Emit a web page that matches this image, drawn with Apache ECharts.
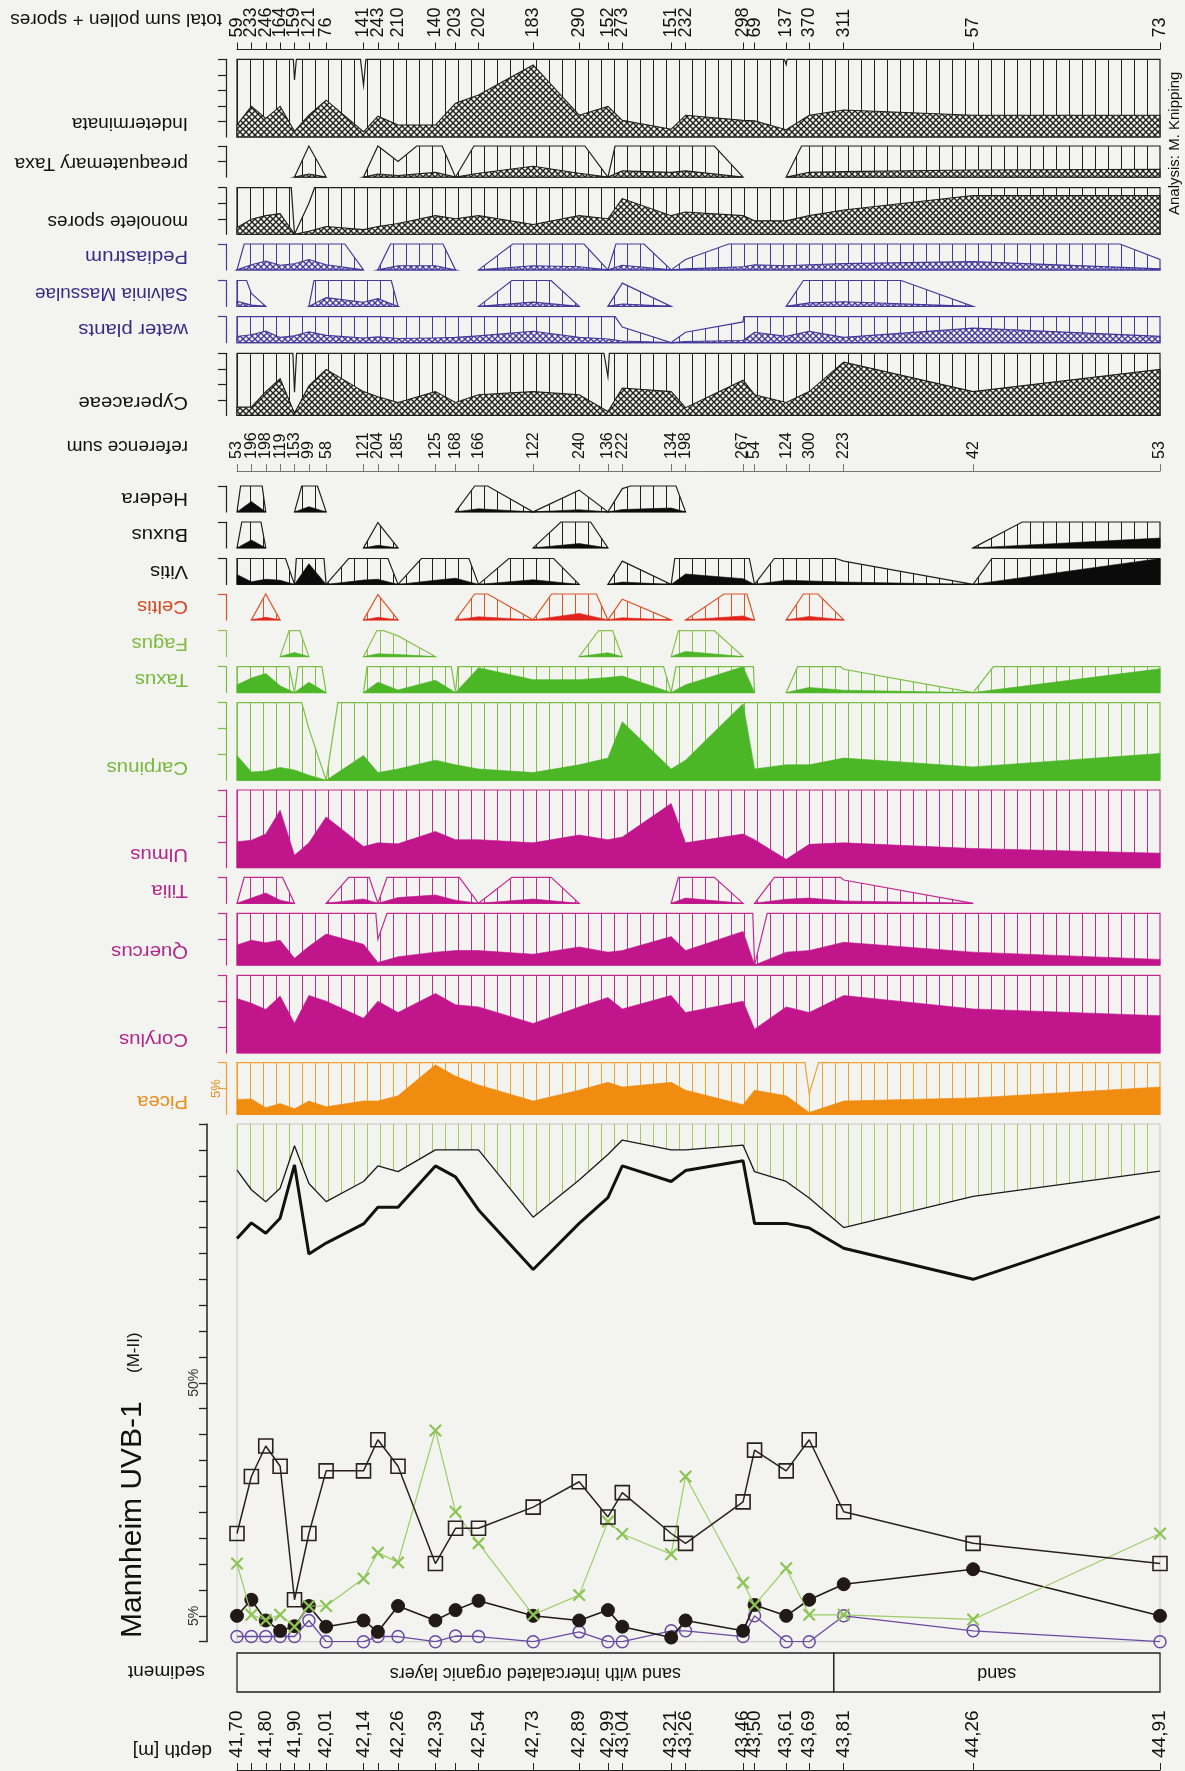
<!DOCTYPE html>
<html>
<head>
<meta charset="utf-8">
<title>Mannheim UVB-1 (M-II)</title>
<script src="https://cdn.jsdelivr.net/npm/echarts@6/dist/echarts.min.js"></script>
<style>
  html, body { margin: 0; padding: 0; background: #f3f3f0; }
  #chart { width: 1185px; height: 1771px; }
</style>
</head>
<body>
<div id="chart"></div>
<script>
// ---- sample depths (m) and counts ----
const depths = [41.70, 41.75, 41.80, 41.85, 41.90, 41.95, 42.01, 42.14, 42.19, 42.26, 42.39, 42.46, 42.54,
  42.73, 42.89, 42.99, 43.04, 43.21, 43.26, 43.46, 43.50, 43.61, 43.69, 43.81, 44.26, 44.91];
const depthLabelValues = [41.70, 41.80, 41.90, 42.01, 42.14, 42.26, 42.39, 42.54, 42.73, 42.89, 42.99, 43.04,
  43.21, 43.26, 43.46, 43.50, 43.61, 43.69, 43.81, 44.26, 44.91];
const totalSums = [59, 233, 246, 164, 159, 121, 76, 141, 243, 210, 140, 203, 202, 183, 290, 152, 273, 151, 232,
  298, 69, 137, 370, 311, 57, 73];
const referenceSums = [53, 196, 198, 119, 153, 99, 58, 121, 204, 185, 125, 168, 166, 122, 240, 136, 222, 134, 198,
  267, 54, 124, 300, 223, 42, 53];

// ---- sediment units ----
const sedimentBounds = [41.70, 43.775, 44.91];
const sedimentNames = ['sand with intercalated organic layers', 'sand'];

// ---- non-pollen palynomorphs (%) ----
const indeterminata = [2.3, 5.9, 3.6, 5.9, 1.1, 4.2, 7.1, 1.0, 4.0, 2.3, 2.3, 6.5, 8.1, 13.9, 4.2, 5.9, 3.2, 1.5, 4.2, 3.2, 3.1, 1.4, 4.2, 5.2, 4.2, 4.2];
const preaquatemaryTaxa = [0, 0, 0, 0, 0, 0.6, 0, 0, 0.6, 0.3, 0.9, 0, 0.75, 2.1, 0.75, 0, 1.2, 0.9, 1.2, 0, 0, 0, 0.9, 1.05, 1.35, 1.5];
const moneleteSpores = [1.3, 2.9, 3.6, 4.0, 0, 0.6, 1.5, 0.9, 1.5, 2.1, 3.6, 3.0, 3.6, 1.9, 3.6, 3.0, 6.9, 3.6, 4.3, 3.6, 2.6, 2.6, 3.6, 4.7, 7.5, 7.5];
const pediastrum = [0, 1.0, 1.7, 0.9, 1.2, 2.0, 1.0, 0, 0, 0.8, 0.8, 0, 0, 0.8, 0.6, 0, 0.9, 0, 0.2, 0.6, 1.0, 0.8, 1.0, 1.2, 1.6, 0.2];
const salviniaMassulae = [1.0, 0.25, 0, 0, 0, 0, 1.7, 0.8, 1.5, 0, 0, 0, 0, 0.82, 0, 0, 0.45, 0, 0, 0, 0, 0, 0.67, 0.9, 0, 0];
const waterPlants = [1.2, 1.5, 2.2, 1.0, 1.3, 2.1, 1.4, 0.9, 1.1, 0.8, 0.9, 1.0, 1.3, 2.2, 1.0, 0.7, 0.3, 0, 0.2, 0.4, 2.0, 1.2, 2.2, 1.0, 2.8, 1.2];
const cyperaceae = [1.6, 1.6, 4.6, 7.1, 0.45, 5.7, 8.9, 4.6, 3.6, 2.5, 4.6, 2.5, 4.0, 4.6, 4.0, 0.75, 5.3, 4.6, 1.5, 6.8, 4.0, 2.5, 4.6, 10.3, 4.6, 8.9];

// ---- pollen taxa (%) ----
const hedera = [0, 2.0, 0, 0, 0, 1.0, 0, 0, 0, 0, 0, 0, 0.6, 0, 0.42, 0, 0.45, 0.75, 0, 0, 0, 0, 0, 0, 0, 0];
const buxus = [0, 1.5, 0, 0, 0, 0, 0, 0, 0.49, 0, 0, 0, 0, 0, 0.83, 0, 0, 0, 0, 0, 0, 0, 0, 0, 0, 1.9];
const vitis = [1.9, 0.5, 1.0, 0.8, 0, 4.0, 0, 0.83, 1.0, 0, 0.8, 1.2, 0, 0.9, 0, 0, 0.45, 0, 2.0, 1.1, 0, 0.8, 0.67, 0.45, 0, 5.0];
const celtis = [0, 0, 0.5, 0, 0, 0, 0, 0, 0.49, 0, 0, 0, 0.6, 0, 1.25, 0, 0.4, 0, 0, 0.75, 0, 0, 0.67, 0, 0, 0];
const fagus = [0, 0, 0, 0, 0.8, 0, 0, 0, 0.54, 0.4, 0, 0, 0, 0, 0, 0.74, 0, 0, 1.0, 0, 0, 0, 0, 0, 0, 0];
const taxus = [1.5, 2.8, 3.7, 1.3, 0, 2.0, 0, 0, 2.0, 0.5, 2.4, 0, 4.8, 2.5, 2.5, 2.9, 3.2, 0, 1.5, 5.0, 0, 0, 1.0, 0.45, 0, 4.6];
const carpinus = [4.8, 1.6, 1.8, 2.5, 2.0, 1.0, 0, 4.8, 1.5, 2.2, 3.9, 3.0, 2.2, 1.5, 3.0, 4.3, 11.3, 2.2, 3.9, 14.8, 2.2, 3.0, 3.0, 4.3, 2.6, 5.2];
const ulmus = [5.0, 5.3, 6.5, 11.1, 2.4, 4.8, 9.8, 4.1, 4.8, 4.6, 7.0, 5.4, 5.4, 4.8, 6.3, 5.4, 5.9, 12.4, 4.8, 6.5, 5.4, 1.6, 4.5, 4.8, 3.7, 2.8];
const tilia = [0, 1.0, 2.0, 0.6, 0, 0, 0, 0.83, 0, 1.1, 1.6, 0.6, 0, 0.82, 0, 0, 0, 0, 1.0, 0, 0, 0.8, 1.0, 0.45, 0, 0];
const quercus = [3.9, 4.8, 4.3, 4.8, 1.3, 3.6, 6.0, 4.0, 0.5, 1.6, 2.5, 2.8, 2.8, 2.1, 3.5, 2.5, 2.8, 5.5, 2.8, 6.5, 0, 2.5, 2.8, 4.4, 2.5, 1.1];
const corylus = [10.5, 9.6, 8.4, 11.0, 5.7, 11.1, 10.0, 6.7, 10.0, 7.8, 11.5, 9.3, 8.9, 5.7, 8.9, 10.7, 8.5, 11.1, 7.8, 10.0, 4.6, 8.9, 7.8, 11.1, 8.5, 7.2];
const picea = [2.9, 3.0, 1.3, 2.1, 1.1, 2.6, 1.5, 2.6, 2.6, 3.6, 9.6, 7.4, 5.7, 2.6, 4.7, 6.2, 5.3, 6.2, 4.7, 1.9, 4.7, 3.6, 0.4, 2.6, 3.2, 5.3];

// ---- summary curves (%) ----
const summaryThin = [91.1, 87.3, 85.0, 87.6, 95.8, 88.5, 85.0, 88.9, 91.9, 90.8, 95.0, 95.0, 95.0, 82.0, 89.2, 94.1, 96.9, 95.0, 95.0, 95.9, 90.8, 88.9, 85.7, 80.0, 86.0, 90.9];
const summaryThick = [77.9, 80.9, 78.9, 81.8, 92.1, 74.9, 77.0, 80.7, 83.9, 83.9, 91.9, 89.8, 83.4, 71.9, 80.8, 85.8, 91.9, 88.9, 91.0, 92.9, 80.8, 80.8, 79.9, 76.0, 70.0, 82.1];
const curveSquares = [20.9, 31.9, 37.8, 33.9, 8.1, 20.9, 33.0, 33.0, 39.0, 33.9, 15.1, 21.9, 21.9, 26.0, 30.9, 24.1, 28.8, 20.9, 19.0, 27.0, 37.0, 33.0, 39.0, 25.1, 19.0, 15.1];
const curveCrosses = [15.1, 5.2, 4.2, 5.2, 2.9, 6.9, 6.9, 12.2, 17.2, 15.3, 40.8, 25.1, 19.0, 5.2, 9.0, 23.2, 20.8, 16.9, 31.9, 11.4, 7.1, 14.2, 5.2, 5.2, 4.3, 20.9];
const curveDots = [5.0, 8.1, 4.1, 2.1, 3.0, 6.9, 2.9, 4.1, 1.9, 6.9, 4.1, 6.1, 7.9, 5.0, 4.1, 6.1, 2.9, 0.8, 4.1, 2.1, 7.1, 5.0, 8.1, 11.1, 14.0, 5.0];
const curveCircles = [1.0, 1.0, 1.0, 1.0, 1.0, 4.1, 0, 0, 1.0, 1.0, 0, 1.1, 1.0, 0, 1.9, 0, 0, 2.1, 2.1, 1.0, 5.0, 0, 0, 5.0, 2.1, 0];

// ---------------------------------------------------------------------------
const FONT = '"Liberation Sans", Arial, Helvetica, sans-serif';
const DMIN = 41.70, DMAX = 44.91;
const LEFT = 237, WIDTH = 923;
const PX_PER_PCT = 5.177;
const EXAG = 10;

// fill patterns
const patternCache = {};
function hatchPattern(color) {
  const key = 'h' + color;
  if (!patternCache[key]) {
    const c = document.createElement('canvas');
    c.width = 13; c.height = 4;
    const ctx = c.getContext('2d');
    ctx.fillStyle = color;
    ctx.fillRect(3, 0, 1, 4);
    patternCache[key] = { image: c, repeat: 'repeat' };
  }
  return patternCache[key];
}
function crossPattern(color) {
  const key = 'x' + color;
  if (!patternCache[key]) {
    const c = document.createElement('canvas');
    c.width = 6; c.height = 6;
    const ctx = c.getContext('2d');
    ctx.fillStyle = '#f3f3f0';
    ctx.fillRect(0, 0, 6, 6);
    ctx.strokeStyle = color;
    ctx.lineWidth = 1.4;
    ctx.beginPath();
    ctx.moveTo(-1, -1); ctx.lineTo(7, 7);
    ctx.moveTo(-1, 7); ctx.lineTo(7, -1);
    ctx.stroke();
    patternCache[key] = { image: c, repeat: 'repeat' };
  }
  return patternCache[key];
}

const STY = {
  npBlack:  { line: '#1f1f1f', fill: '#1f1f1f', np: true, label: '#111111' },
  npPurple: { line: '#46399b', fill: '#46399b', np: true, label: '#382c88' },
  black:    { line: '#1f1f1f', fill: '#0b0b0b', label: '#111111' },
  celtis:   { line: '#dc5528', fill: '#e2231b', label: '#d6491e' },
  fagus:    { line: '#8dc153', fill: '#4bb626', label: '#80bb3e' },
  green:    { line: '#7ac044', fill: '#4bb626', label: '#76b83b' },
  magenta:  { line: '#c32a90', fill: '#c1168b', label: '#b3268a' },
  picea:    { line: '#efa232', fill: '#f08c10', label: '#e58d17' }
};

// name, values, axis max, tick step, top (px), style
const panels = [
  ['Indeterminata', indeterminata, 15, 3, 59.3, STY.npBlack],
  ['preaquatemary Taxa', preaquatemaryTaxa, 6, 3, 146, STY.npBlack],
  ['monolete spores', moneleteSpores, 9, 3, 187.7, STY.npBlack],
  ['Pediastrum', pediastrum, 5, 5, 244, STY.npPurple],
  ['Salvinia Massulae', salviniaMassulae, 5, 5, 280.5, STY.npPurple],
  ['water plants', waterPlants, 5, 5, 316.7, STY.npPurple],
  ['Cyperaceae', cyperaceae, 12, 3, 353.3, STY.npBlack],
  ['Hedera', hedera, 5, 5, 486, STY.black],
  ['Buxus', buxus, 5, 5, 522, STY.black],
  ['Vitis', vitis, 5, 5, 558.5, STY.black],
  ['Celtis', celtis, 5, 5, 594, STY.celtis],
  ['Fagus', fagus, 5, 5, 630.7, STY.fagus],
  ['Taxus', taxus, 5, 5, 666.7, STY.green],
  ['Carpinus', carpinus, 15, 5, 702.7, STY.green],
  ['Ulmus', ulmus, 15, 5, 790, STY.magenta],
  ['Tilia', tilia, 5, 5, 877.4, STY.magenta],
  ['Quercus', quercus, 10, 5, 913.3, STY.magenta],
  ['Corylus', corylus, 15, 5, 975.3, STY.magenta],
  ['Picea', picea, 10, 5, 1062.7, STY.picea]
];

const grids = [], xAxes = [], yAxes = [], series = [], graphics = [];

function addGrid(top, height, xExtra, yExtra) {
  const g = grids.length;
  grids.push({ left: LEFT, width: WIDTH, top: top, height: height, containLabel: false });
  xAxes.push(Object.assign({ type: 'value', gridIndex: g, min: DMIN, max: DMAX, show: false }, xExtra || {}));
  yAxes.push(Object.assign({ type: 'value', gridIndex: g, show: false }, yExtra || {}));
  return g;
}

// runs of consecutive non-zero samples
function runsOf(vals) {
  const r = [];
  let i = 0;
  while (i < vals.length) {
    if (vals[i] > 0) {
      let j = i;
      while (j + 1 < vals.length && vals[j + 1] > 0) j++;
      r.push([i, j]);
      i = j + 1;
    } else i++;
  }
  return r;
}
function runOutline(vals, i, j, factor) {
  const n = vals.length;
  const pts = [i > 0 ? [depths[i - 1], 0] : [depths[i], 0]];
  for (let k = i; k <= j; k++) pts.push([depths[k], vals[k] * factor]);
  pts.push(j < n - 1 ? [depths[j + 1], 0] : [depths[j], 0]);
  return pts;
}
// cut the outline at the top of the panel
function clipTop(pts, max) {
  const out = [];
  for (let k = 0; k < pts.length; k++) {
    const a = pts[k];
    out.push([a[0], Math.min(a[1], max)]);
    if (k + 1 < pts.length) {
      const b = pts[k + 1];
      if ((a[1] - max) * (b[1] - max) < 0) {
        const t = (max - a[1]) / (b[1] - a[1]);
        out.push([a[0] + t * (b[0] - a[0]), max]);
      }
    }
  }
  return out;
}

function flipText(text, x, y, color, size, sx) {
  return {
    type: 'text', x: x, y: y, rotation: Math.PI, scaleX: sx || 1, silent: true,
    style: { text: text, fill: color, font: size + 'px ' + FONT, textAlign: 'left', textVerticalAlign: 'middle' }
  };
}
function upText(text, x, y, color, size) {
  return {
    type: 'text', x: x, y: y, rotation: Math.PI / 2, silent: true,
    style: { text: text, fill: color, font: size + 'px ' + FONT, textAlign: 'left', textVerticalAlign: 'middle' }
  };
}

// ---- taxon panels ----
panels.forEach(([name, vals, max, step, top, sty]) => {
  const height = max * PX_PER_PCT;
  const ticks = [];
  for (let v = step; v <= max + 1e-9; v += step) ticks.push(v);
  const isPicea = name === 'Picea';
  const g = addGrid(top, height, null, {
    show: true, min: 0, max: max, position: 'left', offset: 11,
    axisLine: { show: true, lineStyle: { color: sty.line, width: 1.2 } },
    axisTick: { show: true, length: 8, customValues: ticks, lineStyle: { color: sty.line, width: 1.2 } },
    axisLabel: isPicea ? {
      show: true, customValues: [5], rotate: 90, margin: 3, fontSize: 13, fontFamily: FONT,
      color: sty.label, formatter: v => v + '%'
    } : { show: false },
    splitLine: { show: false }
  });
  const runs = runsOf(vals);
  series.push({
    type: 'custom', xAxisIndex: g, yAxisIndex: g, silent: true,
    encode: { x: 0, y: 1 },
    data: runs.map(r => [depths[r[0]], 0, depths[r[1]]]),
    renderItem: (params, api) => {
      const [i, j] = runs[params.dataIndex];
      const ex = clipTop(runOutline(vals, i, j, EXAG), max).map(p => api.coord(p));
      const ac = clipTop(runOutline(vals, i, j, 1), max).map(p => api.coord(p));
      return {
        type: 'group',
        children: [
          { type: 'polygon', shape: { points: ex },
            style: { fill: hatchPattern(sty.line), stroke: sty.line, lineWidth: 1.2 } },
          { type: 'polygon', shape: { points: ac },
            style: sty.np
              ? { fill: crossPattern(sty.fill), stroke: sty.line, lineWidth: 1.1 }
              : { fill: sty.fill, stroke: sty.fill, lineWidth: 0.6 } }
        ]
      };
    }
  });
  // longer names are set a touch narrower
  const sx = name.length > 12 ? 1.0 : 1.07;
  graphics.push(flipText(name, 188, top + height - 13.5, sty.label, 19, sx));
});

// ---- count rows and depth axis ----
function sampleAxis(top, color, labelOpt) {
  return addGrid(top, 1, {
    show: true, position: 'top',
    axisLine: { show: true, lineStyle: { color: color, width: 1 } },
    axisTick: { show: true, customValues: depths, length: 7, lineStyle: { color: color, width: 1 } },
    axisLabel: labelOpt || { show: false },
    splitLine: { show: false }
  }, { min: 0, max: 1 });
}
// count labels stand upright above every sample tick
function countLabels(g, counts, fontSize) {
  series.push({
    type: 'custom', xAxisIndex: g, yAxisIndex: g, silent: true,
    encode: { x: 0, y: 1 },
    data: depths.map((d, i) => [d, 1, counts[i]]),
    renderItem: (params, api) => {
      const p = api.coord([api.value(0), 1]);
      return {
        type: 'text', x: p[0], y: p[1] - 11, rotation: Math.PI / 2,
        style: { text: String(api.value(2)), fill: '#111', font: fontSize + 'px ' + FONT,
          textAlign: 'left', textVerticalAlign: 'middle' }
      };
    }
  });
}
const gTotal = sampleAxis(48.5, '#222');
countLabels(gTotal, totalSums, 18);
const gRef = sampleAxis(470, '#777');
countLabels(gRef, referenceSums, 16);
sampleAxis(1769, '#222', {
  show: true, customValues: depthLabelValues, rotate: 90, margin: 11, fontSize: 19,
  showMinLabel: true, showMaxLabel: true, hideOverlap: false,
  fontFamily: FONT, color: '#111', formatter: v => v.toFixed(2).replace('.', ',')
});

// ---- summary diagram ----
const gMain = addGrid(1124, 100 * PX_PER_PCT, null, {
  show: true, min: 0, max: 100, interval: 5, position: 'left', offset: 30,
  axisLine: { show: true, lineStyle: { color: '#222', width: 1.5 } },
  axisTick: { show: true, length: 8, lineStyle: { color: '#222', width: 1.3 } },
  axisLabel: {
    show: true, customValues: [5, 50], rotate: 90, margin: 6, fontSize: 14, fontFamily: FONT,
    color: '#333', formatter: v => v + '%'
  },
  splitLine: { show: false }
});
grids[gMain].show = true;
grids[gMain].borderColor = '#b9b9b6';
grids[gMain].borderWidth = 0.8;

const pairs = arr => depths.map((d, i) => [d, arr[i]]);
series.push({
  type: 'line', xAxisIndex: gMain, yAxisIndex: gMain, data: pairs(summaryThin), symbol: 'none',
  lineStyle: { color: '#1a1a1a', width: 1.3 },
  areaStyle: { origin: 'end', color: hatchPattern('#a6cb5e'), opacity: 1 }, z: 2
});
series.push({
  type: 'line', xAxisIndex: gMain, yAxisIndex: gMain, data: pairs(summaryThick), symbol: 'none',
  lineStyle: { color: '#111', width: 3 }, z: 3
});
series.push({
  type: 'line', xAxisIndex: gMain, yAxisIndex: gMain, data: pairs(curveCircles),
  symbol: 'circle', symbolSize: 12, showSymbol: true,
  itemStyle: { color: 'rgba(0,0,0,0)', borderColor: '#6a4aa2', borderWidth: 1.5 },
  lineStyle: { color: '#6a4aa2', width: 1.3 }, z: 4
});
series.push({
  type: 'line', xAxisIndex: gMain, yAxisIndex: gMain, data: pairs(curveDots),
  symbol: 'circle', symbolSize: 13, showSymbol: true,
  itemStyle: { color: '#221917', borderColor: '#221917', borderWidth: 1 },
  lineStyle: { color: '#221917', width: 1.6 }, z: 5
});
series.push({
  type: 'line', xAxisIndex: gMain, yAxisIndex: gMain, data: pairs(curveCrosses),
  symbol: 'path://M0,1.2L1.2,0L10,8.8L8.8,10ZM8.8,0L10,1.2L1.2,10L0,8.8Z', symbolSize: 13, showSymbol: true,
  itemStyle: { color: '#8cc455' },
  lineStyle: { color: '#9dcd67', width: 1.2 }, z: 6
});
series.push({
  type: 'line', xAxisIndex: gMain, yAxisIndex: gMain, data: pairs(curveSquares),
  symbol: 'rect', symbolSize: 14, showSymbol: true,
  itemStyle: { color: 'rgba(0,0,0,0)', borderColor: '#2a211f', borderWidth: 1.6 },
  lineStyle: { color: '#2a211f', width: 1.5 }, z: 7
});

// ---- sediment column ----
const gSed = addGrid(1653, 39, null, { min: 0, max: 1 });
series.push({
  type: 'custom', xAxisIndex: gSed, yAxisIndex: gSed, silent: true,
  encode: { x: 0, y: 1 },
  data: sedimentNames.map((n, i) => [sedimentBounds[i], 0, sedimentBounds[i + 1]]),
  renderItem: (params, api) => {
    const i = params.dataIndex;
    const p0 = api.coord([sedimentBounds[i], 1]);
    const p1 = api.coord([sedimentBounds[i + 1], 0]);
    return {
      type: 'group',
      children: [
        { type: 'rect', shape: { x: p0[0], y: p0[1], width: p1[0] - p0[0], height: p1[1] - p0[1] },
          style: { fill: 'none', stroke: '#222', lineWidth: 1.3 } },
        { type: 'text', x: (p0[0] + p1[0]) / 2, y: (p0[1] + p1[1]) / 2, rotation: Math.PI,
          style: { text: sedimentNames[i], fill: '#111', font: '18px ' + FONT,
            textAlign: 'center', textVerticalAlign: 'middle' } }
      ]
    };
  }
});

// ---- free text ----
graphics.push(flipText('total sum pollen + spores', 222, 19, '#111', 19));
graphics.push(flipText('reference sum', 188, 446, '#111', 19));
graphics.push(flipText('sediment', 205, 1671, '#111', 19));
graphics.push(flipText('depth [m]', 212, 1750, '#111', 19));
graphics.push(upText('Mannheim UVB-1', 133, 1638, '#111', 30));
graphics.push(upText('(M-II)', 134, 1373, '#111', 17));
graphics.push(upText('Analysis: M. Knipping', 1175, 215, '#111', 15));

const chart = echarts.init(document.getElementById('chart'), null, { renderer: 'canvas' });
chart.setOption({
  backgroundColor: '#f3f3f0',
  animation: false,
  textStyle: { fontFamily: FONT },
  grid: grids,
  xAxis: xAxes,
  yAxis: yAxes,
  series: series,
  graphic: { elements: graphics }
});
</script>
</body>
</html>
